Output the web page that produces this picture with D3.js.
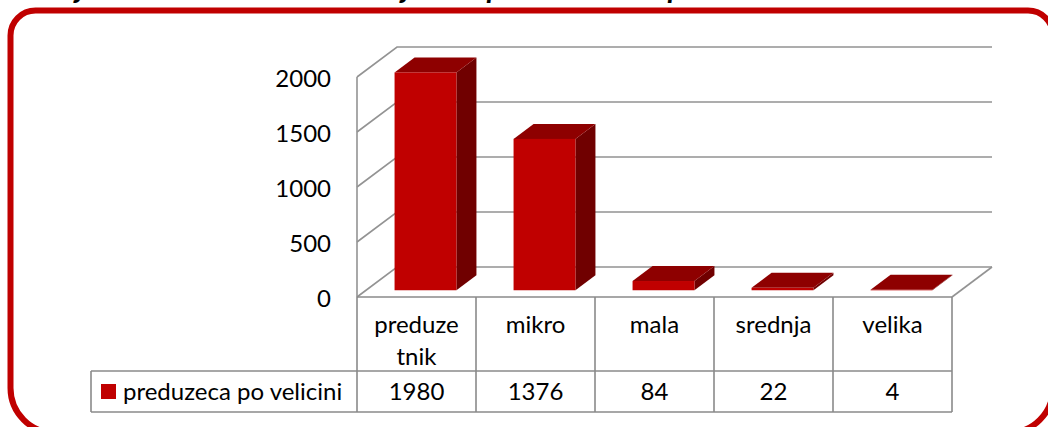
<!DOCTYPE html>
<html>
<head>
<meta charset="utf-8">
<script src="https://cdn.jsdelivr.net/npm/d3@7"></script>
<style>
  body { margin: 0; background: #fff; }
  svg text { font-family: Lato, "Open Sans", sans-serif; fill: #000; }
</style>
</head>
<body>
<div id="chart"></div>
<script>
// data
var categories = ["preduzetnik", "mikro", "mala", "srednja", "velika"];
var catLines = [["preduze", "tnik"], ["mikro"], ["mala"], ["srednja"], ["velika"]];
var values = [1980, 1376, 84, 22, 4];
var seriesName = "preduzeca po velicini";
var yTicks = [0, 500, 1000, 1500, 2000];
var title = "Broj aktivnih ekonomskih subjekata prema veličini preduzeća";

var width = 1048, height = 427;
var depthX = 40, depthY = -30;       // wall depth
var barShift = 0.225;                 // bar front plane, fraction of depth
var barDepth = 0.5;                   // bar depth, fraction of depth
var red = "#c00000", redTop = "#8e0000", redSide = "#700000";
var gridColor = "#939393";

var svg = d3.select("#chart").append("svg")
    .attr("width", width)
    .attr("height", height);

svg.append("rect").attr("width", width).attr("height", height).attr("fill", "#fff");

// title, cut off at the top like in the original
svg.append("text")
    .attr("x", 32)
    .attr("y", -2)
    .style("font-size", "30px")
    .style("font-weight", "bold")
    .style("font-style", "italic")
    .text(title);

// rounded red frame (right and bottom run off the picture)
var fL = 10.5, fT = 10.5, fR = 1053, fB = 433, rT = 25, rB = 45;
svg.append("path")
    .attr("d", `M${fL},${fT + rT} A${rT},${rT} 0 0 1 ${fL + rT},${fT} L${fR - rT},${fT}
      A${rT},${rT} 0 0 1 ${fR},${fT + rT} L${fR},${fB - rB} A${rB},${rB} 0 0 1 ${fR - rB},${fB}
      L${fL + rB},${fB} A${rB},${rB} 0 0 1 ${fL},${fB - rB} Z`)
    .attr("fill", "none")
    .attr("stroke", red)
    .attr("stroke-width", 6);

/* Scales */
var x0 = 357, x1 = 952;
var yScale = d3.scaleLinear().domain([0, 2000]).range([297, 77]);
var xBand = d3.scaleBand().domain(categories).range([x0, x1]).paddingInner(0.48).paddingOuter(0.24);
var xCol = d3.scaleBand().domain(categories).range([x0, x1]).padding(0);

/* walls and gridlines */
var grid = svg.append("g").attr("fill", "none").attr("stroke", gridColor).attr("stroke-width", 1.6);
grid.selectAll("path.grid")
    .data(yTicks)
    .enter()
    .append("path")
    .attr("class", "grid")
    .attr("d", d => `M${x0},${yScale(d)} l${depthX},${depthY} L${x1 + depthX},${yScale(d) + depthY}`);

// left wall front edge
grid.append("line")
    .attr("x1", x0).attr("x2", x0)
    .attr("y1", yScale(2000)).attr("y2", yScale(0));

// floor right edge
grid.append("line")
    .attr("x1", x1).attr("y1", yScale(0))
    .attr("x2", x1 + depthX).attr("y2", yScale(0) + depthY);

/* y labels */
svg.append("g")
    .selectAll("text")
    .data(yTicks)
    .enter()
    .append("text")
    .attr("x", 331)
    .attr("y", d => yScale(d))
    .attr("dy", "0.42em")
    .attr("text-anchor", "end")
    .style("font-size", "24px")
    .text(d => d);

/* bars */
var sx = depthX * barShift, sy = depthY * barShift;
var bx = depthX * barDepth, by = depthY * barDepth;
var bw = xBand.bandwidth();

var bars = svg.append("g").selectAll("g.bar")
    .data(values)
    .enter()
    .append("g")
    .attr("class", "bar");

bars.each(function(v, i) {
    var g = d3.select(this);
    var left = xBand(categories[i]) + sx;
    var base = yScale(0) + sy;
    var top = yScale(v) + sy;
    var right = left + bw;
    g.append("path")
        .attr("fill", redSide)
        .attr("d", `M${right},${top} l${bx},${by} L${right + bx},${base + by} L${right},${base} Z`);
    g.append("path")
        .attr("fill", redTop)
        .attr("d", `M${left},${top} L${right},${top} l${bx},${by} L${left + bx},${top + by} Z`);
    g.append("rect")
        .attr("fill", red)
        .attr("x", left)
        .attr("y", top)
        .attr("width", bw)
        .attr("height", Math.max(0.5, base - top));
});

/* data table */
var rowTop = yScale(0), rowMid = 371, rowBot = 412, legL = 91;
var table = svg.append("g").attr("stroke", "#8a8a8a").attr("stroke-width", 1.6);
table.append("line").attr("x1", x0).attr("x2", x1).attr("y1", rowTop).attr("y2", rowTop);
table.append("line").attr("x1", legL).attr("x2", x1).attr("y1", rowMid).attr("y2", rowMid);
table.append("line").attr("x1", legL).attr("x2", x1).attr("y1", rowBot).attr("y2", rowBot);
table.append("line").attr("x1", legL).attr("x2", legL).attr("y1", rowMid).attr("y2", rowBot);
table.selectAll("line.col")
    .data(categories.concat(["end"]))
    .enter()
    .append("line")
    .attr("class", "col")
    .attr("x1", d => d === "end" ? x1 : xCol(d))
    .attr("x2", d => d === "end" ? x1 : xCol(d))
    .attr("y1", rowTop)
    .attr("y2", rowBot);

var catText = svg.append("g").selectAll("text")
    .data(categories)
    .enter()
    .append("text")
    .attr("text-anchor", "middle")
    .style("font-size", "24px");
catText.selectAll("tspan")
    .data((d, i) => catLines[i])
    .enter()
    .append("tspan")
    .attr("x", function() { var c = d3.select(this.parentNode).datum(); return xCol(c) + xCol.bandwidth() / 2; })
    .attr("y", (d, j) => 333 + j * 32)
    .text(d => d);

svg.append("g").selectAll("text")
    .data(values)
    .enter()
    .append("text")
    .attr("x", (d, i) => xCol(categories[i]) + xCol.bandwidth() / 2)
    .attr("y", 400)
    .attr("text-anchor", "middle")
    .style("font-size", "24px")
    .text(d => d);

// legend key
svg.append("rect")
    .attr("x", 101).attr("y", 384)
    .attr("width", 15).attr("height", 15)
    .attr("fill", red);
svg.append("text")
    .attr("x", 123).attr("y", 400)
    .style("font-size", "24px")
    .text(seriesName);
</script>
</body>
</html>
